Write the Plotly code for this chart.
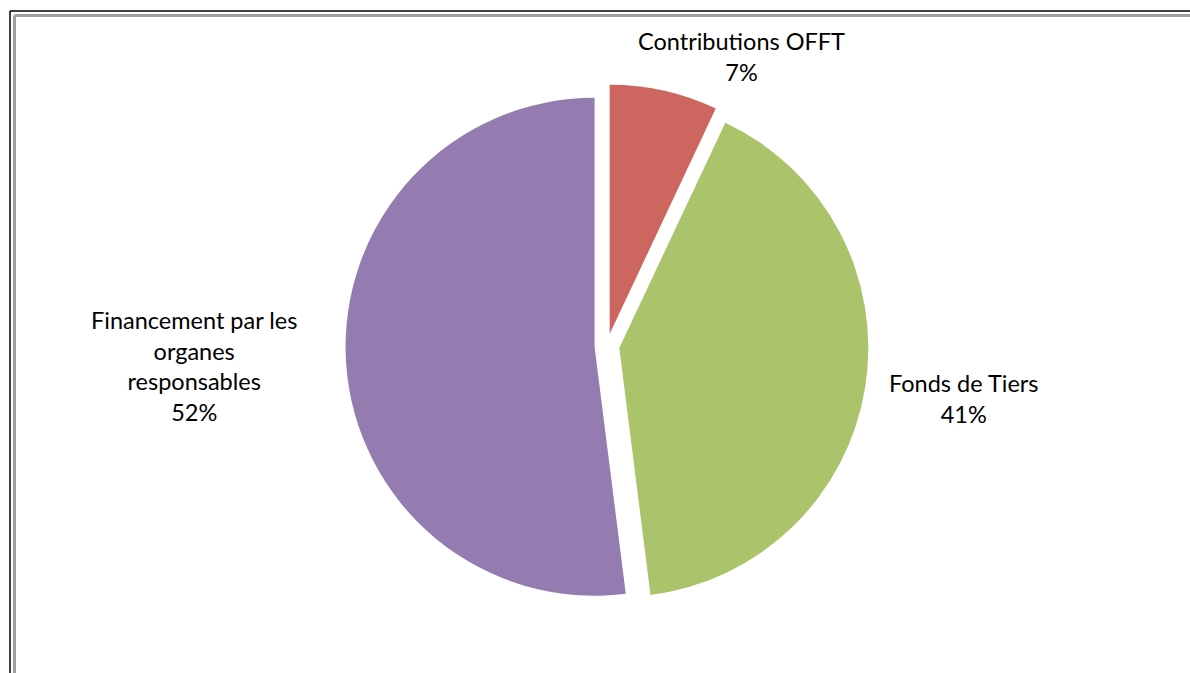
import plotly.graph_objects as go

# Funding sources and their shares (%)
labels = ["Contributions OFFT", "Fonds de Tiers", "Financement par les organes responsables"]
label_lines = [["Contributions OFFT"], ["Fonds de Tiers"], ["Financement par les", "organes", "responsables"]]
values = [7, 41, 52]
colors = ["#CC665F", "#ABC46C", "#947CB1"]

W, H = 1190, 673
cx, cy = 607, 346          # pie centre in pixels (from top-left)
radius = 249
pull = 0.05
half = radius * (1 + pull)

fig = go.Figure(go.Pie(
    labels=labels,
    values=values,
    sort=False,
    direction="clockwise",
    rotation=0,
    pull=[pull] * len(values),
    marker=dict(colors=colors, line=dict(width=0)),
    textinfo="none",
    hoverinfo="label+percent",
    showlegend=False,
    domain=dict(x=[(cx - half) / W, (cx + half) / W],
                y=[(H - cy - half) / H, (H - cy + half) / H]),
))

# Data labels placed around the pie
label_pos = [(741, 56), (963, 398), (194, 366)]
font = dict(family="Lato, Open Sans, sans-serif", size=23.5, color="#000000")
total = sum(values)
for lines, v, (lx, ly) in zip(label_lines, values, label_pos):
    text = "<br>".join(lines + [f"{round(100 * v / total)}%"])
    fig.add_annotation(x=lx / W, y=1 - ly / H, xref="paper", yref="paper",
                       text=text, showarrow=False, font=font, align="center",
                       xanchor="center", yanchor="middle")

# Double frame running off the right and bottom edges
def px_x(x):
    return x / W

def px_y(y):
    return 1 - y / H

shapes = [
    dict(type="line", xref="paper", yref="paper", x0=px_x(10), x1=px_x(W + 20),
         y0=px_y(11), y1=px_y(11), line=dict(color="#000000", width=1.5)),
    dict(type="line", xref="paper", yref="paper", x0=px_x(10), x1=px_x(10),
         y0=px_y(11), y1=px_y(H + 20), line=dict(color="#000000", width=1.5)),
    dict(type="line", xref="paper", yref="paper", x0=px_x(14.5), x1=px_x(W + 20),
         y0=px_y(15.5), y1=px_y(15.5), line=dict(color="#A0A0A0", width=3)),
    dict(type="line", xref="paper", yref="paper", x0=px_x(14.5), x1=px_x(14.5),
         y0=px_y(15.5), y1=px_y(H + 20), line=dict(color="#A0A0A0", width=3)),
]

fig.update_layout(
    width=W, height=H,
    margin=dict(l=0, r=0, t=0, b=0),
    paper_bgcolor="#FFFFFF",
    plot_bgcolor="#FFFFFF",
    shapes=shapes,
)

fig.write_html("out.html")
